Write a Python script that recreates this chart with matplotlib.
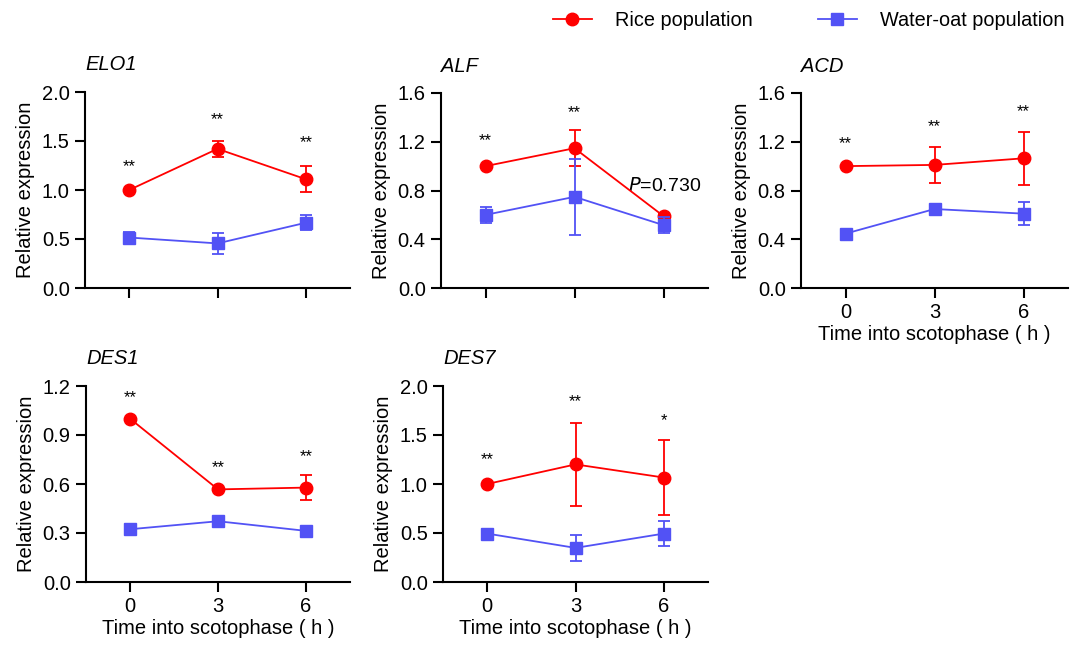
import matplotlib
matplotlib.use("Agg")
import matplotlib.pyplot as plt
from matplotlib.lines import Line2D

plt.rcParams['font.family'] = ['Liberation Sans', 'DejaVu Sans']

times = [0, 3, 6]
genes = ["ELO1", "ALF", "ACD", "DES1", "DES7"]

rice_mean = {
    "ELO1": [1.00, 1.42, 1.11],
    "ALF":  [1.00, 1.147, 0.59],
    "ACD":  [1.00, 1.01, 1.064],
    "DES1": [1.00, 0.567, 0.578],
    "DES7": [1.00, 1.20, 1.066],
}
rice_err = {
    "ELO1": [0.0, 0.08, 0.13],
    "ALF":  [0.0, 0.147, 0.02],
    "ACD":  [0.0, 0.148, 0.22],
    "DES1": [0.0, 0.0, 0.077],
    "DES7": [0.0, 0.425, 0.38],
}
oat_mean = {
    "ELO1": [0.515, 0.455, 0.666],
    "ALF":  [0.60, 0.748, 0.516],
    "ACD":  [0.446, 0.648, 0.61],
    "DES1": [0.323, 0.372, 0.313],
    "DES7": [0.494, 0.348, 0.494],
}
oat_err = {
    "ELO1": [0.06, 0.11, 0.075],
    "ALF":  [0.065, 0.31, 0.065],
    "ACD":  [0.0, 0.0, 0.095],
    "DES1": [0.0, 0.0, 0.0],
    "DES7": [0.03, 0.135, 0.128],
}
y_max = {"ELO1": 2.0, "ALF": 1.6, "ACD": 1.6, "DES1": 1.2, "DES7": 2.0}
y_step = {"ELO1": 0.5, "ALF": 0.4, "ACD": 0.4, "DES1": 0.3, "DES7": 0.5}
sig_labels = {
    "ELO1": ["**", "**", "**"],
    "ALF":  ["**", "**", None],
    "ACD":  ["**", "**", "**"],
    "DES1": ["**", "**", "**"],
    "DES7": ["**", "**", "*"],
}
sig_y = {
    "ELO1": [1.24, 1.72, 1.48],
    "ALF":  [1.207, 1.44, None],
    "ACD":  [1.184, 1.327, 1.444],
    "DES1": [1.13, 0.70, 0.77],
    "DES7": [1.25, 1.84, 1.65],
}
show_xlabels = {"ELO1": False, "ALF": False, "ACD": True, "DES1": True, "DES7": True}

RED = "#ff0000"
BLUE = "#5252f5"
FS = 14.5

W, H = 1077, 648
fig = plt.figure(figsize=(W / 100, H / 100), dpi=100)

boxes = {
    "ELO1": (85, 92, 350, 288),
    "ALF":  (441, 93, 708, 288),
    "ACD":  (801, 93, 1068, 288),
    "DES1": (86, 386, 350, 582),
    "DES7": (443, 386, 708, 582),
}

for g in genes:
    l, t, r, b = boxes[g]
    ax = fig.add_axes([l / W, 1 - b / H, (r - l) / W, (b - t) / H])
    ax.errorbar(times, rice_mean[g], yerr=rice_err[g], color=RED, marker='o',
                markersize=9, linewidth=1.3, elinewidth=1.3, capsize=4, capthick=1.3,
                zorder=3, clip_on=False)
    ax.errorbar(times, oat_mean[g], yerr=oat_err[g], color=BLUE, marker='s',
                markersize=8, linewidth=1.3, elinewidth=1.3, capsize=4, capthick=1.3,
                zorder=4, clip_on=False)
    for x, s, yy in zip(times, sig_labels[g], sig_y[g]):
        if s:
            ax.text(x, yy, s, ha='center', va='center', fontsize=12)
    if g == "ALF":
        ax.text(4.8, 0.84, r"$\it{P}$=0.730", ha='left', va='center', fontsize=14)
    ax.set_xlim(-1.5, 7.5)
    ax.set_ylim(0, y_max[g])
    n = int(round(y_max[g] / y_step[g]))
    yt = [i * y_step[g] for i in range(n + 1)]
    ax.set_yticks(yt)
    ax.set_yticklabels([f"{v:.1f}" for v in yt])
    ax.set_xticks(times)
    if show_xlabels[g]:
        ax.set_xticklabels([str(t) for t in times])
        ax.set_xlabel("Time into scotophase ( h )", fontsize=FS, labelpad=2)
    else:
        ax.set_xticklabels([])
    ax.set_ylabel("Relative expression", fontsize=FS, labelpad=5)
    for sp in ["top", "right"]:
        ax.spines[sp].set_visible(False)
    for sp in ["left", "bottom"]:
        ax.spines[sp].set_linewidth(1.5)
    ax.tick_params(axis='both', labelsize=FS, width=1.5, length=7, pad=4)
    ax.text(0.0, 1.0 + 27 / (b - t), g, transform=ax.transAxes, fontsize=FS,
            style='italic', ha='left', va='center')

handles = [
    Line2D([], [], color=RED, marker='o', markersize=9, linewidth=1.3),
    Line2D([], [], color=BLUE, marker='s', markersize=8, linewidth=1.3),
]
fig.legend(handles, ["Rice population", "Water-oat population"], loc='center left',
           bbox_to_anchor=(553 / W, 1 - 20 / H), ncol=2, frameon=False,
           fontsize=14.3, borderpad=0, borderaxespad=0, handlelength=1.96,
           handletextpad=1.16, columnspacing=3.27)

fig.savefig("out.png", dpi=100)
